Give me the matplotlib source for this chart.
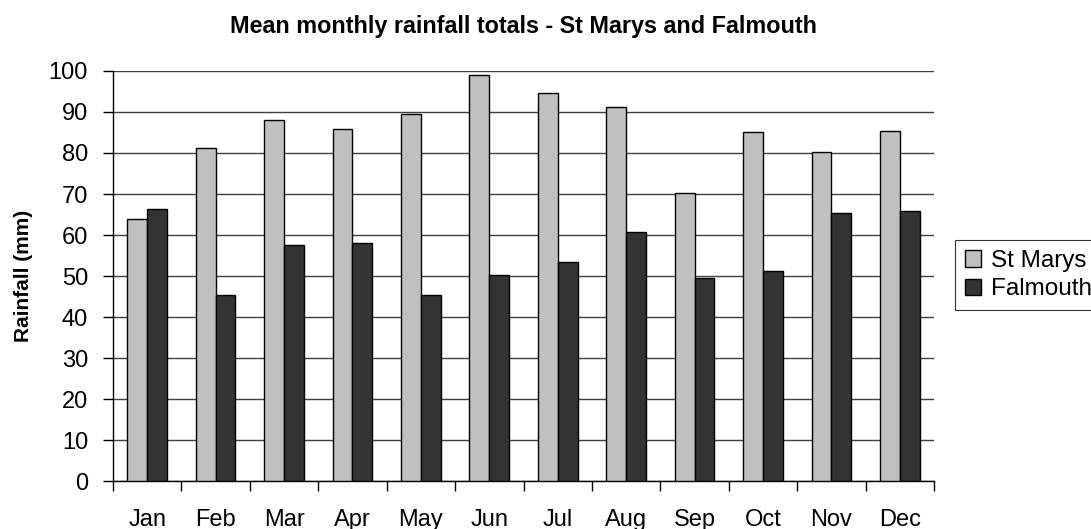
import matplotlib.pyplot as plt
import numpy as np

plt.rcParams['font.family'] = ['Liberation Sans', 'DejaVu Sans']

# Data
months = ['Jan', 'Feb', 'Mar', 'Apr', 'May', 'Jun', 'Jul', 'Aug', 'Sep', 'Oct', 'Nov', 'Dec']
st_marys = [64.0, 81.2, 88.0, 85.9, 89.4, 99.0, 94.7, 91.1, 70.3, 85.2, 80.2, 85.4]
falmouth = [66.3, 45.3, 57.6, 58.0, 45.3, 50.2, 53.4, 60.8, 49.4, 51.3, 65.4, 65.8]

fig = plt.figure(figsize=(10.91, 5.29), dpi=100)
ax = fig.add_axes([0.1036, 0.0907, 0.7525, 0.7751])

index = np.arange(len(months))
bar_width = 0.29

ax.bar(index - bar_width / 2, st_marys, bar_width, label='St Marys',
       color='#c0c0c0', edgecolor='black', linewidth=1, zorder=3)
ax.bar(index + bar_width / 2, falmouth, bar_width, label='Falmouth',
       color='#333333', edgecolor='black', linewidth=1, zorder=3)

ax.set_xlim(-0.5, len(months) - 0.5)
ax.set_ylim(0, 100)
ax.set_yticks(np.arange(0, 101, 10))
ax.yaxis.grid(True, color='#404040', linewidth=1)
ax.set_axisbelow(True)

# ticks between categories, labels centered under groups
ax.set_xticks(np.arange(-0.5, len(months), 1))
ax.set_xticklabels([])
ax.set_xticks(index, minor=True)
ax.set_xticklabels(months, minor=True, fontsize=17)
ax.tick_params(axis='x', which='major', direction='out', length=7, width=1)
ax.tick_params(axis='x', which='minor', length=0, pad=20)
ax.tick_params(axis='y', direction='out', length=7, width=1, labelsize=17, pad=11)

for side in ['top', 'right']:
    ax.spines[side].set_visible(False)
for side in ['left', 'bottom']:
    ax.spines[side].set_color('black')
    ax.spines[side].set_linewidth(1)

ax.set_ylabel('Rainfall (mm)', fontsize=15, fontweight='bold', labelpad=11)
ax.set_title('Mean monthly rainfall totals - St Marys and Falmouth',
             fontsize=16.8, fontweight='bold', pad=27)

leg = ax.legend(loc='center left', bbox_to_anchor=(1.026, 0.502), fontsize=17.5,
                frameon=True, fancybox=False, edgecolor='black',
                handlelength=0.65, handleheight=0.65, handletextpad=0.4,
                borderpad=0.4, labelspacing=0.25, borderaxespad=0)
leg.get_frame().set_linewidth(0.8)

fig.savefig('out.png', dpi=100)
